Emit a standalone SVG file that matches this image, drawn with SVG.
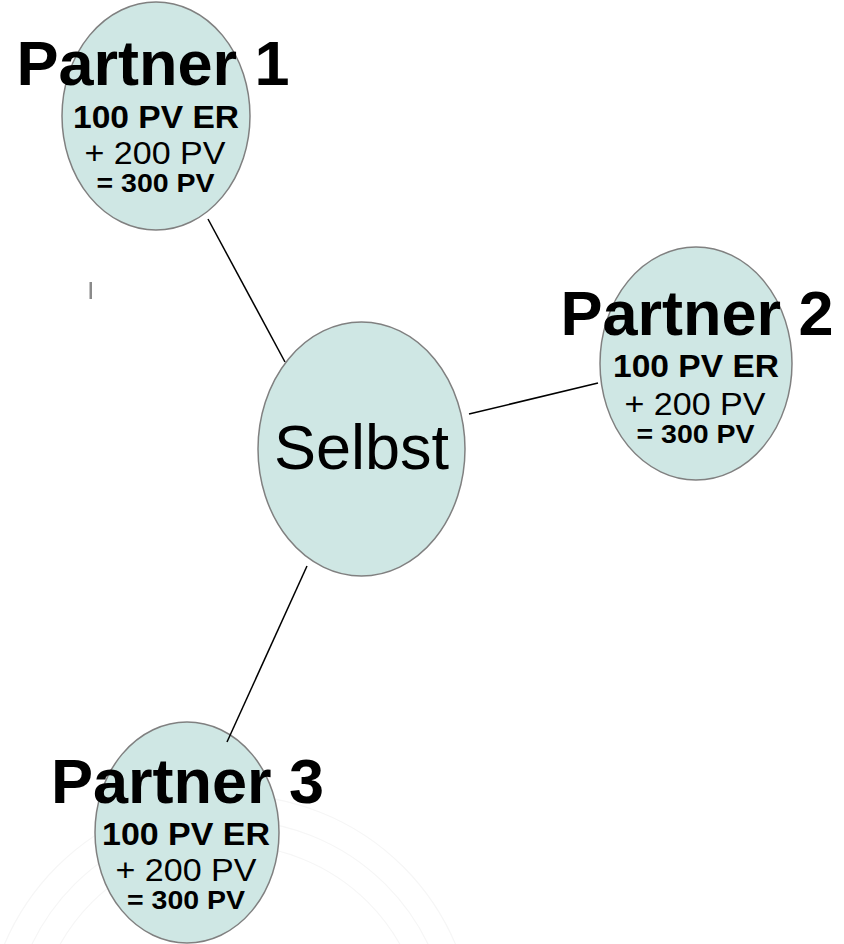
<svg xmlns="http://www.w3.org/2000/svg" width="844" height="944" viewBox="0 0 844 944">
  <style>
    .node { fill: #cfe7e4; stroke: #808080; stroke-width: 1.5; }
    .title { font-family: "Liberation Sans", Arial, sans-serif; font-weight: bold; font-size: 63px; fill: #000; text-anchor: middle; }
    .big { font-family: "Liberation Sans", Arial, sans-serif; font-size: 63px; fill: #000; text-anchor: middle; }
    .b1 { font-family: "Liberation Sans", Arial, sans-serif; font-weight: bold; font-size: 32px; fill: #000; text-anchor: middle; }
    .r1 { font-family: "Liberation Sans", Arial, sans-serif; font-size: 31px; fill: #000; text-anchor: middle; }
    .b2 { font-family: "Liberation Sans", Arial, sans-serif; font-weight: bold; font-size: 26px; fill: #000; text-anchor: middle; }
    .conn { stroke: #000; stroke-width: 1.5; fill: none; }
    .bg { stroke: #f6f6f6; stroke-width: 1.2; fill: none; }
  </style>
  <rect width="844" height="944" fill="#ffffff"/>
  <g id="background">
    <circle class="bg" cx="230" cy="1040" r="245"/>
    <circle class="bg" cx="230" cy="1040" r="220"/>
    <circle class="bg" cx="230" cy="1040" r="195"/>
    <rect x="89.5" y="282" width="2.5" height="17" fill="#8a8a8a"/>
  </g>
  <g id="selbst">
    <ellipse class="node" cx="361.5" cy="449" rx="103.5" ry="127"/>
    <text class="big" x="361.5" y="469">Selbst</text>
  </g>
  <g id="partner1">
    <ellipse class="node" cx="156" cy="116" rx="94" ry="114"/>
    <text class="title" x="153" y="85">Partner 1</text>
    <text class="b1" x="156" y="128" textLength="166" lengthAdjust="spacingAndGlyphs">100 PV ER</text>
    <text class="r1" x="155" y="164" textLength="141" lengthAdjust="spacingAndGlyphs">+ 200 PV</text>
    <text class="b2" x="155.5" y="192" textLength="118" lengthAdjust="spacingAndGlyphs">= 300 PV</text>
  </g>
  <g id="partner2">
    <ellipse class="node" cx="696" cy="363.5" rx="96" ry="116.5"/>
    <text class="title" x="697" y="335">Partner 2</text>
    <text class="b1" x="696" y="377" textLength="166" lengthAdjust="spacingAndGlyphs">100 PV ER</text>
    <text class="r1" x="695" y="415" textLength="141" lengthAdjust="spacingAndGlyphs">+ 200 PV</text>
    <text class="b2" x="695.5" y="443" textLength="118" lengthAdjust="spacingAndGlyphs">= 300 PV</text>
  </g>
  <g id="partner3">
    <ellipse class="node" cx="187" cy="832.5" rx="92" ry="110.5"/>
    <text class="title" x="187.5" y="803">Partner 3</text>
    <text class="b1" x="186" y="845" textLength="168" lengthAdjust="spacingAndGlyphs">100 PV ER</text>
    <text class="r1" x="186" y="881" textLength="141" lengthAdjust="spacingAndGlyphs">+ 200 PV</text>
    <text class="b2" x="186" y="909" textLength="118" lengthAdjust="spacingAndGlyphs">= 300 PV</text>
  </g>
  <g id="connectors">
    <line class="conn" x1="208" y1="219" x2="285" y2="362"/>
    <line class="conn" x1="469" y1="414" x2="598" y2="383"/>
    <line class="conn" x1="307" y1="566" x2="227" y2="742"/>
  </g>
</svg>
